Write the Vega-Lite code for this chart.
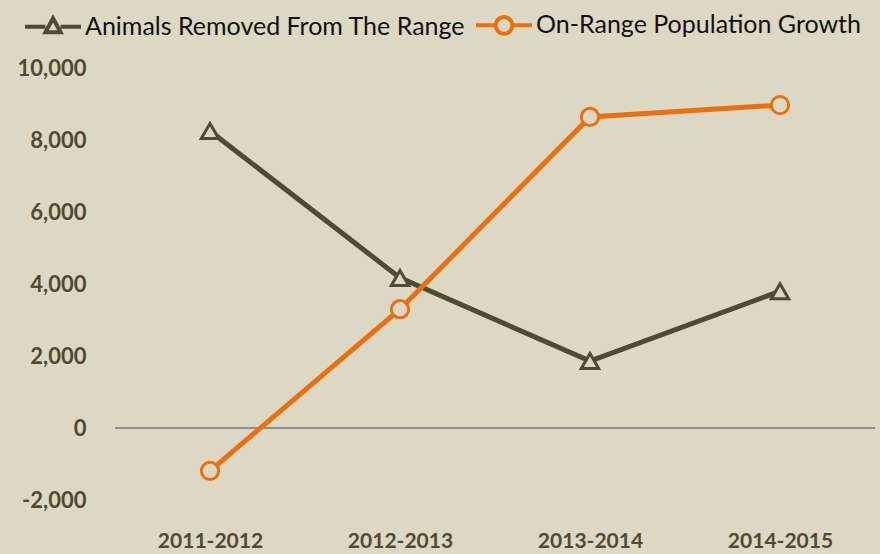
{
  "$schema": "https://vega.github.io/schema/vega-lite/v6.json",
  "autosize": "none",
  "width": 760,
  "height": 432,
  "padding": {"left": 115, "top": 68, "right": 5, "bottom": 54},
  "background": "#ddd8c3",
  "config": {"view": {"stroke": null}, "font": "Lato"},
  "data": {
    "values": [
      {"year": "2011-2012", "series": "Animals Removed From The Range", "value": 8250},
      {"year": "2012-2013", "series": "Animals Removed From The Range", "value": 4170},
      {"year": "2013-2014", "series": "Animals Removed From The Range", "value": 1860},
      {"year": "2014-2015", "series": "Animals Removed From The Range", "value": 3800},
      {"year": "2011-2012", "series": "On-Range Population Growth", "value": -1190},
      {"year": "2012-2013", "series": "On-Range Population Growth", "value": 3300},
      {"year": "2013-2014", "series": "On-Range Population Growth", "value": 8640},
      {"year": "2014-2015", "series": "On-Range Population Growth", "value": 8970}
    ]
  },
  "layer": [
    {
      "mark": {"type": "rule", "color": "#8e8e8e", "strokeWidth": 2},
      "encoding": {"y": {"datum": 0, "type": "quantitative", "title": null,
        "scale": {"domain": [-2000, 10000]},
        "axis": {"values": [-2000, 0, 2000, 4000, 6000, 8000, 10000], "labelExpr": "datum.value < 0 ? '-' + format(-datum.value, ',') : format(datum.value, ',')", "grid": false, "domain": false, "ticks": false, "tickSize": 0, "labelPadding": 29,
          "labelFont": "Lato", "labelFontWeight": "bold", "labelFontSize": 22, "labelColor": "#4f4a33"}}}
    },
    {
      "mark": {"type": "line", "strokeWidth": 5},
      "encoding": {
        "x": {"field": "year", "type": "ordinal", "title": null,
          "axis": {"labelAngle": 0, "domain": false, "ticks": false, "tickSize": 0, "labelPadding": 30,
            "labelFont": "Lato", "labelFontWeight": "bold", "labelFontSize": 21, "labelColor": "#4f4a33"}},
        "y": {"field": "value", "type": "quantitative", "title": null,
          "scale": {"domain": [-2000, 10000]},
          "axis": {"values": [-2000, 0, 2000, 4000, 6000, 8000, 10000], "labelExpr": "datum.value < 0 ? '-' + format(-datum.value, ',') : format(datum.value, ',')", "grid": false, "domain": false, "ticks": false, "tickSize": 0, "labelPadding": 29,
            "labelFont": "Lato", "labelFontWeight": "bold", "labelFontSize": 22, "labelColor": "#4f4a33"}},
        "color": {"field": "series", "type": "nominal",
          "scale": {"domain": ["Animals Removed From The Range", "On-Range Population Growth"], "range": ["#4f4a33", "#e8700f"]},
          "legend": {
            "title": null, "orient": "none", "direction": "horizontal", "legendX": -92, "legendY": -73, "padding": 0,
            "symbolSize": 3136, "symbolStrokeWidth": 4, "symbolFillColor": "#ddd8c3", "symbolOpacity": 1,
            "labelFont": "Lato", "labelFontSize": 25, "labelColor": "#111111", "labelOffset": 2, "labelLimit": 0, "columnPadding": 2,
            "encode": {"symbols": {"update": {
              "shape": {"signal": "datum.value === 'Animals Removed From The Range' ? 'M-1,0H-0.27M0.27,0H1M0,-0.3L0.27,0.2L-0.27,0.2Z' : 'M-1,0H-0.3M0.3,0H1M0.3,0A0.3,0.3 0 1,1 -0.3,0A0.3,0.3 0 1,1 0.3,0Z'"},
              "fill": {"value": "#ddd8c3"}
            }}}
          }
        }
      }
    },
    {
      "mark": {"type": "point", "filled": true, "fill": "#ddd8c3", "strokeWidth": 3, "opacity": 1},
      "encoding": {
        "x": {"field": "year", "type": "ordinal"},
        "y": {"field": "value", "type": "quantitative"},
        "shape": {"condition": {"test": "datum.series === 'On-Range Population Growth'", "value": "circle"}, "value": "triangle-up"},
        "size": {"value": 300},
        "stroke": {"field": "series", "type": "nominal", "legend": null,
          "scale": {"domain": ["Animals Removed From The Range", "On-Range Population Growth"], "range": ["#4f4a33", "#e8700f"]}}
      }
    }
  ]
}
